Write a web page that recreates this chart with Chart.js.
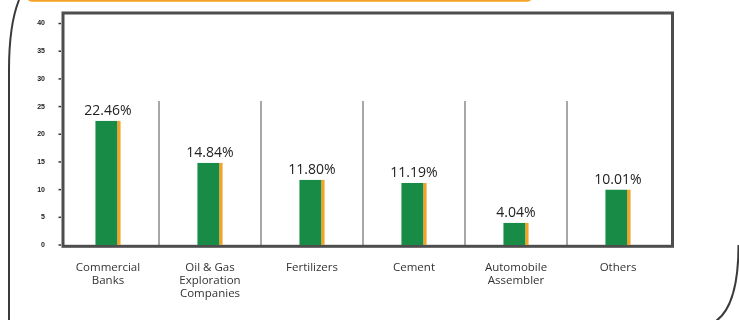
<!DOCTYPE html>
<html>
<head>
<meta charset="utf-8">
<script src="https://cdn.jsdelivr.net/npm/chart.js@4/dist/chart.umd.min.js"></script>
<style>
    body { margin: 0; background: #fff; }
    #wrap { width: 739px; height: 320px; }
</style>
</head>
<body>
<div id="wrap"><canvas id="setores" width="739" height="320"></canvas></div>
<script>
// setores e participação (%)
const setores = [
    ["Commercial", "Banks"],
    ["Oil & Gas", "Exploration", "Companies"],
    "Fertilizers",
    "Cement",
    ["Automobile", "Assembler"],
    "Others"
];
const participacao = [22.46, 14.84, 11.80, 11.19, 4.04, 10.01];
const ticksY = [0, 5, 10, 15, 20, 25, 30, 35, 40];

const VERDE = "#188c46";
const LARANJA = "#f3a325";
const FONTE = "'Open Sans', 'Noto Sans', sans-serif";

// moldura externa + faixa laranja do topo
const fundoPlugin = {
    id: "fundo",
    beforeDraw(chart) {
        const ctx = chart.ctx;
        ctx.save();
        ctx.fillStyle = LARANJA;
        ctx.beginPath();
        ctx.roundRect(26, -10, 507, 11.7, 6);
        ctx.fill();

        ctx.strokeStyle = "#3a3a3a";
        ctx.lineWidth = 2;
        ctx.beginPath();
        ctx.moveTo(19, 0);
        ctx.quadraticCurveTo(9, 25, 9, 70);
        ctx.lineTo(9, 322);
        ctx.stroke();
        ctx.beginPath();
        ctx.moveTo(738.5, 245);
        ctx.quadraticCurveTo(738.5, 305, 716, 321);
        ctx.stroke();
        ctx.restore();
    }
};

// caixa do gráfico, marcas do eixo Y e divisórias entre setores
const caixaPlugin = {
    id: "caixa",
    beforeDatasetsDraw(chart) {
        const { ctx, chartArea, scales } = chart;
        const x = scales.x, y = scales.y;
        const esq = chartArea.left + 6;
        const dir = chartArea.right + 3.5;
        const base = y.getPixelForValue(0) + 1.3;
        ctx.save();

        ctx.strokeStyle = "#8a8a8a";
        ctx.lineWidth = 1.5;
        const topoDiv = y.getPixelForValue(26);
        for (let i = 0; i < setores.length - 1; i++) {
            const px = (x.getPixelForValue(i) + x.getPixelForValue(i + 1)) / 2;
            ctx.beginPath();
            ctx.moveTo(px, topoDiv);
            ctx.lineTo(px, base);
            ctx.stroke();
        }

        ctx.strokeStyle = "#333";
        ctx.lineWidth = 1.5;
        ticksY.forEach(v => {
            const py = y.getPixelForValue(v);
            ctx.beginPath();
            ctx.moveTo(esq - 4.5, py);
            ctx.lineTo(esq - 2, py);
            ctx.stroke();
        });

        ctx.strokeStyle = "#4d4d4d";
        ctx.lineWidth = 3;
        ctx.strokeRect(esq, chartArea.top, dir - esq, base - chartArea.top);
        ctx.restore();
    },
    afterDatasetsDraw(chart) {
        const ctx = chart.ctx;
        const meta = chart.getDatasetMeta(0);
        ctx.save();
        ctx.fillStyle = "#222";
        ctx.font = "14px " + FONTE;
        ctx.textAlign = "center";
        ctx.textBaseline = "bottom";
        meta.data.forEach((bar, i) => {
            ctx.fillText(participacao[i].toFixed(2) + "%", bar.x, bar.y - 3);
        });
        ctx.restore();
    }
};

new Chart(document.getElementById("setores"), {
    type: "bar",
    data: {
        labels: setores,
        datasets: [{
            data: participacao,
            backgroundColor: VERDE,
            borderColor: LARANJA,
            borderWidth: { top: 0, right: 3.5, bottom: 0, left: 0 },
            borderSkipped: false,
            barPercentage: 0.25,
            categoryPercentage: 1
        }]
    },
    options: {
        responsive: false,
        animation: false,
        layout: { padding: { left: 0, right: 70, top: 13, bottom: 0 } },
        plugins: {
            legend: { display: false },
            tooltip: { enabled: false }
        },
        scales: {
            x: {
                grid: { display: false },
                border: { display: false },
                afterFit: s => { s.height = 75; },
                ticks: {
                    autoSkip: false,
                    maxRotation: 0,
                    padding: 8,
                    color: "#333",
                    font: { family: FONTE, size: 11.5, lineHeight: 1.15 }
                }
            },
            y: {
                min: 0,
                max: 41.9,
                grid: { display: false },
                border: { display: false },
                afterFit: s => { s.width = 57; },
                afterBuildTicks: s => { s.ticks = ticksY.map(v => ({ value: v })); },
                ticks: {
                    padding: 4,
                    color: "#222",
                    font: { family: "'Liberation Sans', Arial, sans-serif", size: 7, weight: "bold" }
                }
            }
        }
    },
    plugins: [fundoPlugin, caixaPlugin]
});
</script>
</body>
</html>
